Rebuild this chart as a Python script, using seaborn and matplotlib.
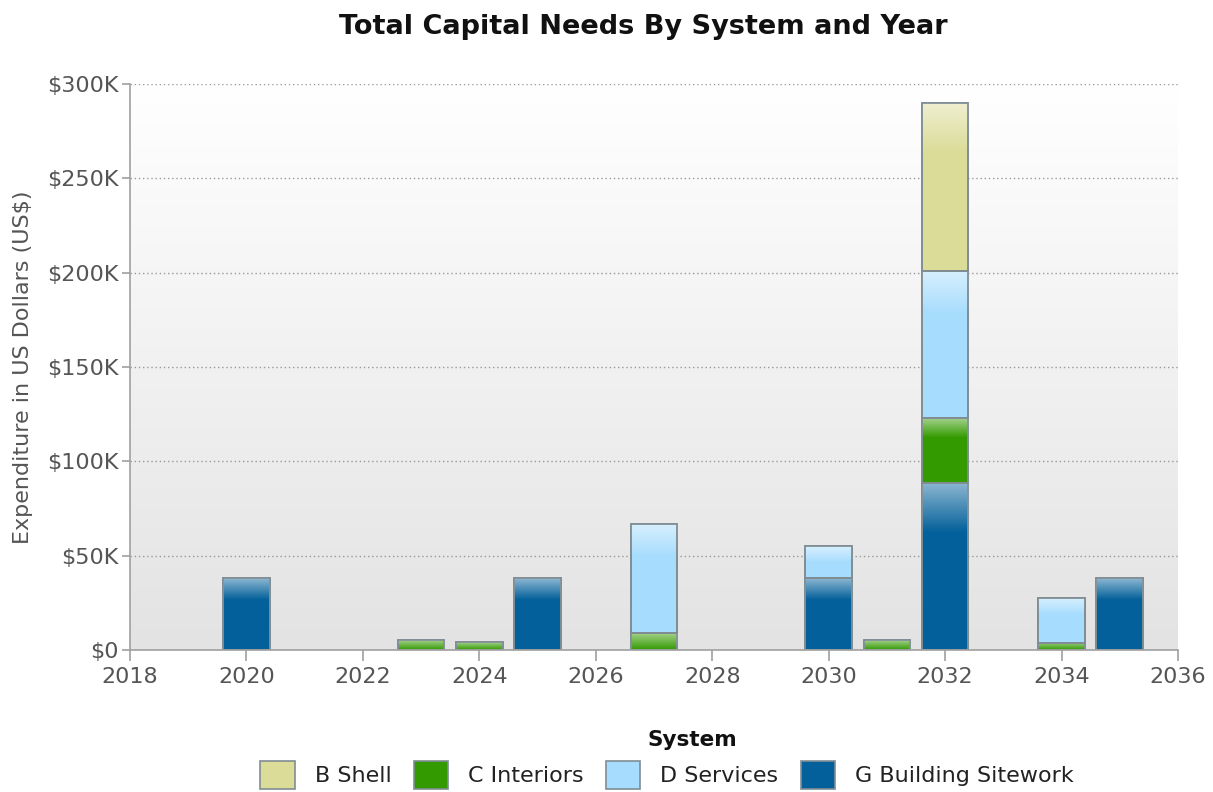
import numpy as np
import pandas as pd
import matplotlib
matplotlib.use('Agg')
import matplotlib.pyplot as plt
import seaborn as sns
from matplotlib.ticker import FuncFormatter

# values (US$)
years = [2020, 2023, 2024, 2025, 2027, 2030, 2031, 2032, 2034, 2035]
b_shell = [0, 0, 0, 0, 0, 0, 0, 89000, 0, 0]
c_interiors = [0, 5300, 4200, 0, 9200, 0, 5300, 34100, 3900, 0]
d_services = [0, 0, 0, 0, 57600, 17000, 0, 78200, 23500, 0]
g_sitework = [38000, 0, 0, 38000, 0, 38000, 0, 88700, 0, 38000]

systems = ['B Shell', 'C Interiors', 'D Services', 'G Building Sitework']
colors = {'B Shell': '#dbdc98', 'C Interiors': '#339a00',
          'D Services': '#a6dcfd', 'G Building Sitework': '#03609a'}
# seaborn stacks the last hue level at the bottom
stack_order = ['B Shell', 'D Services', 'C Interiors', 'G Building Sitework']

rows = []
for name, vals in zip(systems, [b_shell, c_interiors, d_services, g_sitework]):
    for y, v in zip(years, vals):
        rows.append({'year': y, 'system': name, 'value': v})
df = pd.DataFrame(rows)

sns.set_style('ticks')
plt.rcParams['font.family'] = ['DejaVu Sans']

fig = plt.figure(figsize=(12.13, 7.92), dpi=100)
ax = fig.add_axes([130 / 1213, 1 - 650 / 792, 1048 / 1213, 566 / 792])

# background gradient: white at top, light grey at bottom
bg = matplotlib.colors.LinearSegmentedColormap.from_list('bg', ['#e3e3e3', '#ffffff'])
ax.imshow(np.linspace(1.0, 0.0, 256).reshape(-1, 1), extent=[2018, 2036, 0, 300000],
          aspect='auto', cmap=bg, zorder=0)

sns.histplot(data=df, x='year', weights='value', hue='system', hue_order=stack_order,
             multiple='stack', discrete=True, shrink=0.8, palette=colors,
             edgecolor='#7f8d93', linewidth=1.2, alpha=1, ax=ax, zorder=3)

for p in list(ax.patches):
    if p.get_height() == 0:
        p.remove()

# glossy highlight on top part of each segment, then redraw the outline above it
shine = np.ones((64, 1, 4))
shine[:, 0, 3] = np.linspace(0.55, 0.0, 64)
for p in list(ax.patches):
    x0, y0, w, h = p.get_x(), p.get_y(), p.get_width(), p.get_height()
    hh = min(h, max(h * 0.3, 9000))
    im = ax.imshow(shine, extent=[x0, x0 + w, y0 + h - hh, y0 + h], aspect='auto',
                   zorder=3.5, interpolation='bilinear')
    im.set_clip_path(p)
    ax.add_patch(plt.Rectangle((x0, y0), w, h, fill=False, edgecolor='#7f8d93',
                               linewidth=1.2, zorder=3.8))

ax.set_xlim(2018, 2036)
ax.set_ylim(0, 300000)
ax.set_xticks(range(2018, 2037, 2))
ax.set_yticks(range(0, 300001, 50000))
ax.yaxis.set_major_formatter(FuncFormatter(lambda v, _: '$0' if v == 0 else f'${int(v / 1000)}K'))

ax.grid(axis='y', linestyle=(0, (1, 2)), color='#999999', linewidth=1, zorder=1)
ax.grid(axis='x', visible=False)

for s in ['top', 'right']:
    ax.spines[s].set_visible(False)
for s in ['left', 'bottom']:
    ax.spines[s].set_color('#a0a0a0')
    ax.spines[s].set_linewidth(1.2)
    ax.spines[s].set_zorder(4)

ax.tick_params(axis='both', colors='#a0a0a0', labelcolor='#555555', labelsize=16, width=1.2)
ax.tick_params(axis='y', length=6, pad=2)
ax.tick_params(axis='x', length=8, pad=4)

ax.set_title('Total Capital Needs By System and Year', fontsize=19.5, fontweight='bold',
             color='#111111', x=(643 - 130) / 1048, pad=36)
ax.set_ylabel('Expenditure in US Dollars (US$)', fontsize=16, color='#555555', labelpad=10)
ax.set_xlabel('System', fontsize=15.5, fontweight='bold', color='#111111')
ax.xaxis.set_label_coords((692 - 130) / 1048, -(730 - 650) / 566)

# legend in the reference order
old = ax.get_legend()
handles = {t.get_text(): h for t, h in zip(old.get_texts(), old.legend_handles)}
old.remove()
ax.legend([handles[s] for s in systems], systems, loc='center',
          bbox_to_anchor=((667 - 130) / 1048, -(775 - 650) / 566),
          ncol=4, frameon=False, fontsize=16, labelcolor='#222222',
          handlelength=1.55, handleheight=1.55, handletextpad=0.9, columnspacing=1.0)

plt.savefig('out.png', dpi=100)
plt.close()
